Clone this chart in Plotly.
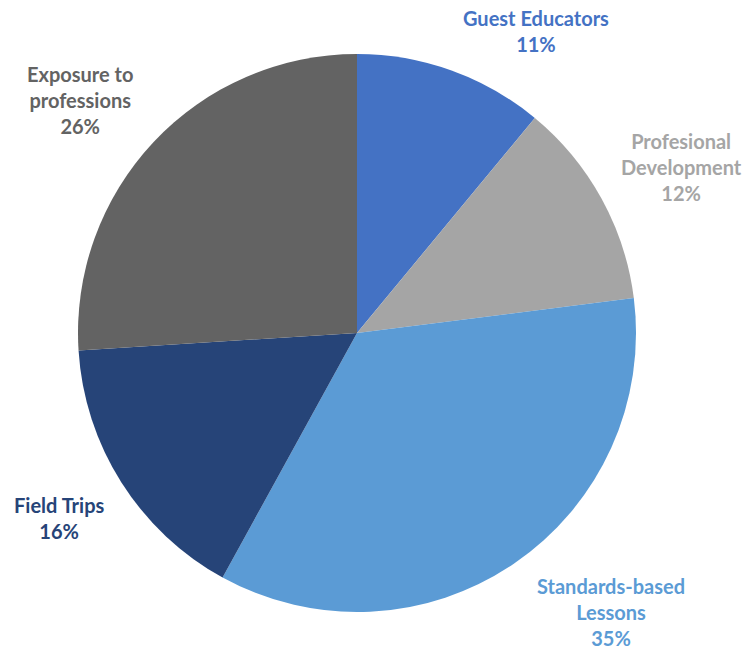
import plotly.graph_objects as go

# Share of program activities
categories = ["Guest Educators", "Profesional Development", "Standards-based Lessons",
              "Field Trips", "Exposure to professions"]
shares = [11, 12, 35, 16, 26]

# Label text lines (line breaks as displayed) and their colours
label_lines = [["Guest Educators"], ["Profesional", "Development"],
               ["Standards-based", "Lessons"], ["Field Trips"],
               ["Exposure to", "professions"]]
colors = ["#4472C4", "#A5A5A5", "#5B9BD5", "#264478", "#636363"]

W, H = 745, 650
# Label block centres in pixels (x, y)
label_pos = [(536, 31.5), (681, 167), (611, 611.5), (60, 518), (79.5, 100)]

fig = go.Figure(go.Pie(
    labels=categories,
    values=shares,
    sort=False,
    direction="clockwise",
    rotation=0,
    marker=dict(colors=colors, line=dict(width=0)),
    textinfo="none",
    hoverinfo="label+percent",
    showlegend=False,
    domain=dict(x=[(357 - 279) / W, (357 + 279) / W],
                y=[(H - 333 - 279) / H, (H - 333 + 279) / H]),
))

for lines, val, col, (px, py) in zip(label_lines, shares, colors, label_pos):
    text = "<br>".join(lines + [f"{val}%"])
    fig.add_annotation(
        x=px / W, y=1 - py / H, xref="paper", yref="paper",
        xanchor="center", yanchor="middle", showarrow=False,
        text=f"<b>{text}</b>", align="center",
        font=dict(family="Lato", size=20, color=col),
    )

fig.update_layout(
    width=W, height=H,
    margin=dict(l=0, r=0, t=0, b=0),
    paper_bgcolor="white", plot_bgcolor="white",
)

fig.write_html("out.html")
